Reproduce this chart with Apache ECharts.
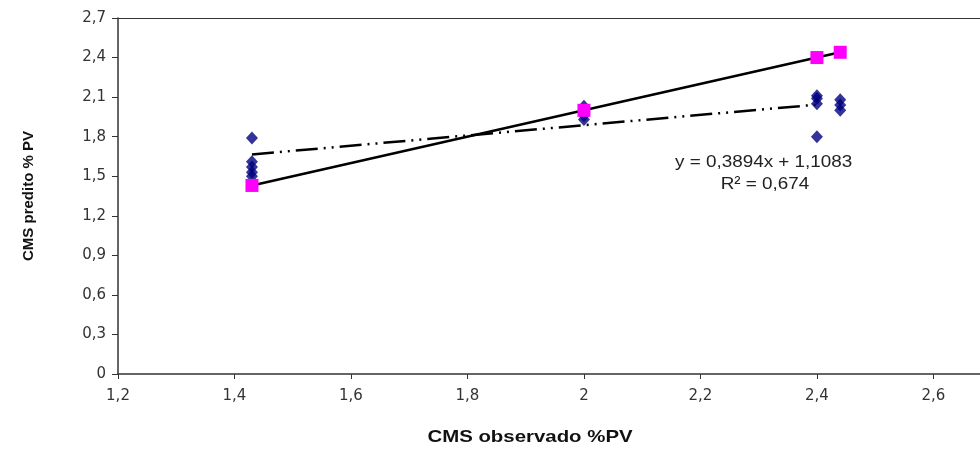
<!DOCTYPE html>
<html>
<head>
<meta charset="utf-8">
<script src="https://cdn.jsdelivr.net/npm/echarts@6/dist/echarts.min.js"></script>
<style>
html,body{margin:0;padding:0;background:#fff;}
#chart{width:980px;height:450px;}
</style>
</head>
<body>
<div id="chart"></div>
<script>
// Observed vs predicted (blue diamonds)
const observedX = [1.43, 1.43, 1.43, 1.43, 1.43, 2.0, 2.0, 2.0, 2.4, 2.4, 2.4, 2.4, 2.44, 2.44, 2.44];
const predictedY = [1.79, 1.61, 1.57, 1.53, 1.50, 2.03, 1.96, 1.93, 2.11, 2.09, 2.05, 1.80, 2.08, 2.04, 2.00];
// 1:1 line (pink squares)
const identityX = [1.43, 2.0, 2.4, 2.44];
const identityY = [1.43, 2.0, 2.4, 2.44];
// Linear trend endpoints
const trendX = [1.43, 2.4];
const trendY = [1.665, 2.043];
const equationText = 'y = 0,3894x + 1,1083';
const r2Text = 'R² = 0,674';
const xTitle = 'CMS observado %PV';
const yTitle = 'CMS predito % PV';

const fmt = v => {
  const r = Math.round(v * 10) / 10;
  return String(r).replace('.', ',');
};

const chart = echarts.init(document.getElementById('chart'));
const font = 'Liberation Sans, Arial, sans-serif';
const axisColor = '#333';

chart.setOption({
  animation: false,
  backgroundColor: '#fff',
  grid: {left: 118, top: 18, right: 0, bottom: 76},
  xAxis: [{
    type: 'value', min: 1.2, max: 2.68, interval: 0.2,
    axisLine: {show: true, onZero: false, lineStyle: {color: axisColor, width: 1.5}},
    axisTick: {show: true, length: 5, lineStyle: {color: axisColor}},
    axisLabel: {formatter: fmt, showMaxLabel: false, margin: 15, fontFamily: 'DejaVu Sans, sans-serif', fontSize: 15, color: '#333'},
    splitLine: {show: false}
  }, {
    type: 'value', position: 'top', min: 1.2, max: 2.68,
    axisLine: {show: true, onZero: false, lineStyle: {color: axisColor, width: 1.2}},
    axisTick: {show: false}, axisLabel: {show: false}, splitLine: {show: false}
  }],
  yAxis: {
    type: 'value', min: 0, max: 2.7, interval: 0.3,
    name: yTitle, nameLocation: 'middle', nameGap: 82, nameRotate: 90,
    nameTextStyle: {fontFamily: font, fontSize: 15, fontWeight: 'bold', color: '#111'},
    axisLine: {show: true, onZero: false, lineStyle: {color: axisColor, width: 1.5}},
    axisTick: {show: true, length: 6, lineStyle: {color: axisColor}},
    axisLabel: {formatter: fmt, margin: 12, fontFamily: 'DejaVu Sans, sans-serif', fontSize: 15, color: '#333'},
    splitLine: {show: false}
  },
  series: [{
    type: 'line',
    data: trendX.map((x, i) => [x, trendY[i]]),
    symbol: 'none',
    lineStyle: {color: '#000', width: 2.5, type: [22, 6, 2, 6, 2, 6]},
    z: 2
  }, {
    type: 'scatter',
    data: observedX.map((x, i) => [x, predictedY[i]]),
    symbol: 'diamond', symbolSize: [12, 13],
    itemStyle: {color: '#000080'},
    z: 3
  }, {
    type: 'line',
    data: identityX.map((x, i) => [x, identityY[i]]),
    symbol: 'rect', symbolSize: 13, showAllSymbol: true,
    itemStyle: {color: '#ff00ff', borderWidth: 0},
    lineStyle: {color: '#000', width: 2.5},
    z: 4
  }],
  graphic: [{
    type: 'text', x: 675, y: 162, scaleX: 1.11,
    style: {text: equationText, font: '17px ' + font, fill: '#222', verticalAlign: 'middle', align: 'left'}
  }, {
    type: 'text', x: 765, y: 184, scaleX: 1.11,
    style: {text: r2Text, font: '17px ' + font, fill: '#222', verticalAlign: 'middle', align: 'center'}
  }, {
    type: 'text', x: 530, y: 437, scaleX: 1.2,
    style: {text: xTitle, font: 'bold 17px ' + font, fill: '#111', verticalAlign: 'middle', align: 'center'}
  }]
});
</script>
</body>
</html>
